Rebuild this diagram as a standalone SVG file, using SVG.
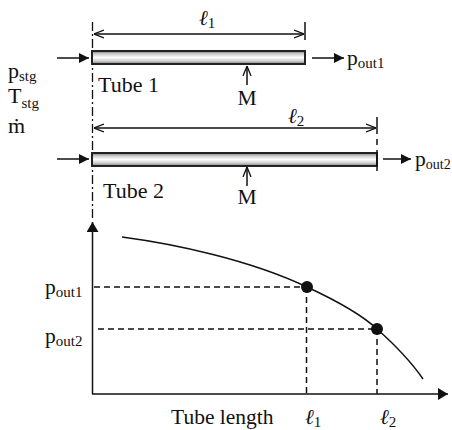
<svg xmlns="http://www.w3.org/2000/svg" width="452" height="430" viewBox="0 0 452 430">
<style>
text{font-family:"Liberation Serif","Times New Roman",serif;fill:#111;font-size:21.5px}
.sub{font-size:15px}
.big{font-size:22px}
.ell{font-style:italic;font-size:21px}
.ln{stroke:#111;stroke-width:1.5;fill:none}
.dash{stroke:#111;stroke-width:1.5;fill:none;stroke-dasharray:6 4}
.dd{stroke:#111;stroke-width:1.3;fill:none;stroke-dasharray:9 3 2 3}
.tube{fill:url(#tg);stroke:#222;stroke-width:2}
</style>
<defs>
<linearGradient id="tg" x1="0" y1="0" x2="0" y2="1">
<stop offset="0" stop-color="#777"/>
<stop offset="0.22" stop-color="#ccc"/>
<stop offset="0.5" stop-color="#fff"/>
<stop offset="0.78" stop-color="#ccc"/>
<stop offset="1" stop-color="#777"/>
</linearGradient>
<marker id="fa" viewBox="0 0 10 10" refX="10" refY="5" markerWidth="10" markerHeight="10" markerUnits="userSpaceOnUse" orient="auto">
<path d="M0,0 L10,5 L0,10 Z" fill="#111"/>
</marker>
<marker id="oa" viewBox="0 0 10 10" refX="10" refY="5" markerWidth="10" markerHeight="10" markerUnits="userSpaceOnUse" orient="auto-start-reverse">
<path d="M0,1 L10,5 L0,9" fill="none" stroke="#111" stroke-width="1.3"/>
</marker>
<marker id="ax" viewBox="0 0 10 12" refX="10" refY="6" markerWidth="11" markerHeight="12" markerUnits="userSpaceOnUse" orient="auto">
<path d="M0,0 L10,6 L0,12 Z" fill="#111"/>
</marker>
</defs>

<g id="inlet-labels">
<text class="big" x="8" y="78">p<tspan class="sub" dy="3">stg</tspan></text>
<text class="big" x="8" y="103">T<tspan class="sub" dy="5">stg</tspan></text>
<text class="big" x="8" y="133">ṁ</text>
</g>

<line class="dd" x1="92.5" y1="22" x2="92.5" y2="220"/>

<g id="tube1">
<rect class="tube" x="92" y="51" width="213" height="13"/>
<text class="big" x="98" y="92">Tube 1</text>
<line class="ln" x1="305" y1="22" x2="305" y2="40"/>
</g>

<g id="tube2">
<rect class="tube" x="92" y="153" width="285" height="13"/>
<line class="ln" x1="377" y1="117" x2="377" y2="134"/>
<line class="ln" x1="377" y1="139" x2="377" y2="145"/>
<line class="ln" x1="377" y1="150" x2="377" y2="171"/>
<text class="big" x="103" y="198">Tube 2</text>
</g>

<g id="dim1">
<text x="199" y="25" class="ell">ℓ<tspan class="sub" dy="3" style="font-style:normal">1</tspan></text>
</g>
<g id="dim2">
<text x="288" y="123" class="ell">ℓ<tspan class="sub" dy="3" style="font-style:normal">2</tspan></text>
</g>

<g id="outlet-labels">
<text x="347" y="65">p<tspan class="sub" dy="3">out1</tspan></text>
<text x="415" y="166">p<tspan class="sub" dy="3" style="font-size:14px">out2</tspan></text>
<text x="247" y="105" text-anchor="middle">M</text>
<text x="247" y="204" text-anchor="middle">M</text>
</g>

<g id="connectors">
<line class="ln" x1="94" y1="34" x2="304" y2="34" marker-start="url(#oa)" marker-end="url(#oa)"/>
<line class="ln" x1="94" y1="128" x2="376" y2="128" marker-start="url(#oa)" marker-end="url(#oa)"/>
<line class="ln" x1="57" y1="58" x2="89" y2="58" marker-end="url(#fa)"/>
<line class="ln" x1="57" y1="159" x2="89" y2="159" marker-end="url(#fa)"/>
<line class="ln" x1="312" y1="58" x2="344" y2="58" marker-end="url(#fa)"/>
<line class="ln" x1="383" y1="159" x2="411" y2="159" marker-end="url(#fa)"/>
<line class="ln" x1="247" y1="85" x2="247" y2="66" marker-end="url(#oa)"/>
<line class="ln" x1="247" y1="186" x2="247" y2="167" marker-end="url(#oa)"/>
</g>

<g id="plot">
<line class="ln" x1="92.5" y1="394" x2="92.5" y2="222" marker-end="url(#ax)"/>
<line class="ln" x1="92" y1="394" x2="448" y2="394" marker-end="url(#ax)"/>
<path class="ln" d="M122,237 C175,244 250,260 307,287 C335,300 360,313 377,329 C395,345 410,360 423,379"/>
<line class="dash" x1="94" y1="287" x2="307" y2="287"/>
<line class="dash" x1="98" y1="329" x2="377" y2="329"/>
<line class="dash" x1="306.5" y1="287" x2="306.5" y2="394"/>
<line class="dash" x1="377" y1="329" x2="377" y2="394"/>
<circle cx="307" cy="287" r="6" fill="#111"/>
<circle cx="377" cy="329" r="6" fill="#111"/>
<text x="45" y="294">p<tspan class="sub" dy="3">out1</tspan></text>
<text x="45" y="343">p<tspan class="sub" dy="3">out2</tspan></text>
<text x="171" y="424">Tube length</text>
<text x="305" y="424" class="ell">ℓ<tspan class="sub" dy="3" style="font-style:normal">1</tspan></text>
<text x="380" y="424" class="ell">ℓ<tspan class="sub" dy="3" style="font-style:normal">2</tspan></text>
</g>
</svg>
